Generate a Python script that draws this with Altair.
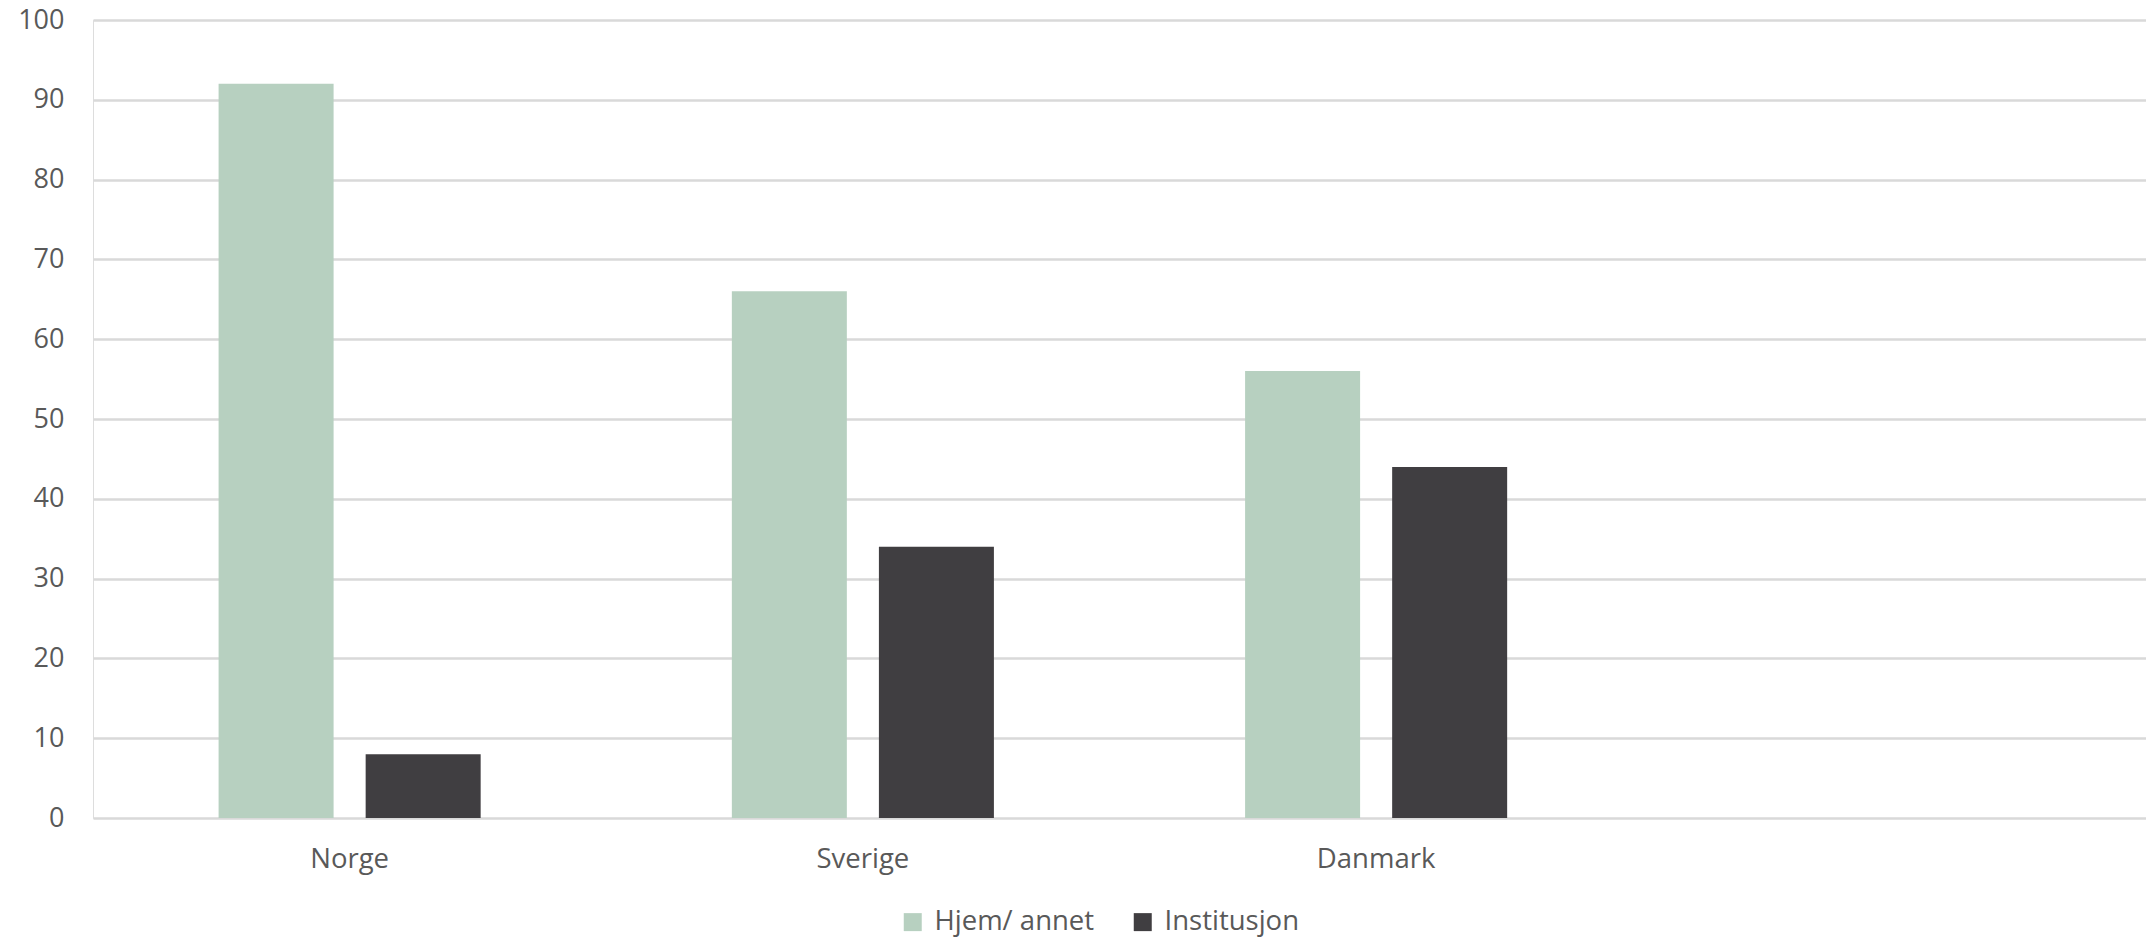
import altair as alt
import pandas as pd

countries = ["Norge", "Sverige", "Danmark"]
series = ["Hjem/ annet", "Institusjon"]
hjem = [92, 66, 56]
institusjon = [8, 34, 44]
colors = ["#b7d0c0", "#403e41"]
y_ticks = [0, 10, 20, 30, 40, 50, 60, 70, 80, 90, 100]

rows = []
for c, h, i in zip(countries, hjem, institusjon):
    rows.append({"land": c, "serie": series[0], "verdi": h})
    rows.append({"land": c, "serie": series[1], "verdi": i})
df = pd.DataFrame(rows)

font = "Open Sans"
label_color = "#595959"

chart = alt.Chart(df).mark_bar().encode(
    x=alt.X("land:N", sort=countries,
            scale=alt.Scale(domain=countries + [" "], paddingInner=0, paddingOuter=0),
            axis=alt.Axis(title=None, labelAngle=0, ticks=False, domain=False, grid=False,
                          gridOpacity=0, domainOpacity=0,
                          labelFont=font, labelFontSize=27.5, labelColor=label_color,
                          labelPadding=27)),
    xOffset=alt.XOffset("serie:N", sort=series,
                        scale=alt.Scale(domain=series, paddingInner=0.218, paddingOuter=0.854)),
    y=alt.Y("verdi:Q", scale=alt.Scale(domain=[0, 100], nice=False),
            axis=alt.Axis(title=None, values=y_ticks, ticks=False, domain=False,
                          domainOpacity=0,
                          grid=True, gridColor="#d9d9d9", gridWidth=2.5,
                          labelFont=font, labelFontSize=27, labelColor=label_color,
                          labelPadding=29)),
    color=alt.Color("serie:N", sort=series,
                    scale=alt.Scale(domain=series, range=colors),
                    legend=alt.Legend(title=None, orient="none", direction="horizontal",
                                      legendX=806, legendY=888,
                                      symbolType="square", symbolSize=324,
                                      symbolStrokeWidth=0, symbolOpacity=1,
                                      labelFont=font, labelFontSize=27.5,
                                      labelColor=label_color, labelOffset=8,
                                      columnPadding=34)),
).properties(
    width=2053, height=798,
    autosize=alt.AutoSizeParams(type="none"),
    padding={"left": 93, "top": 20, "right": 0, "bottom": 121},
).configure_view(
    strokeWidth=0, stroke=None, strokeOpacity=0
).configure_axis(
    domain=False, ticks=False, domainOpacity=0
).configure_axisX(
    grid=False
).configure(background="white")

chart.save("out.html", embed_options={"renderer": "svg", "actions": False})
